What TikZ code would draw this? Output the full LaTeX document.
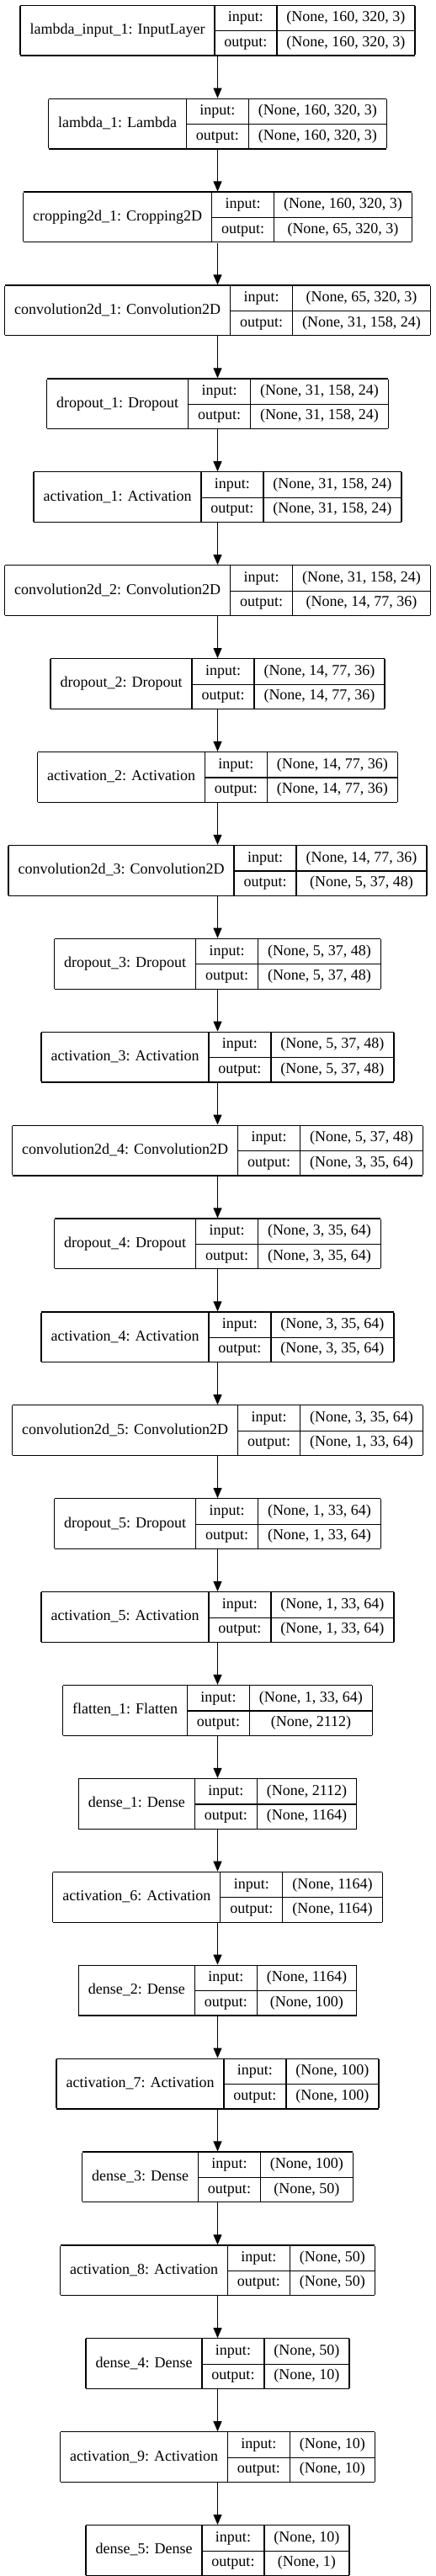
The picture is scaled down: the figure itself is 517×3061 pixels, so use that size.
\documentclass[tikz,border=0pt]{standalone}
\usepackage{fontspec}
\setmainfont{Liberation Serif}
\usepackage{tikz}
\usetikzlibrary{positioning,arrows.meta}

\newcommand{\rowstrut}{\rule[-10.2pt]{0pt}{29.3pt}}
\newcommand{\layerbox}[3]{%
  \setlength{\arrayrulewidth}{1.2pt}\setlength{\tabcolsep}{11.5pt}%
  \begin{tabular}{|c|c|c|}\hline
    \raisebox{-14.65pt}[0pt][0pt]{#1} & input:\rowstrut & #2\\ \cline{2-3}
     & output:\rowstrut & #3\\ \hline
  \end{tabular}}

\begin{document}
\begin{tikzpicture}[->,>={Triangle[length=12pt,width=10pt]},x=1pt,y=1pt,
      node distance=49.9pt,line width=1.2pt,
      layer/.style={inner sep=0pt,outer sep=0pt,font=\fontsize{18}{21.6}\selectfont}]
			\useasboundingbox (0,0) rectangle (517,-3061);
			\node[layer,anchor=north] (lin) at (258.5,-5.7) {\layerbox{lambda\_input\_1: InputLayer}{(None, 160, 320, 3)}{(None, 160, 320, 3)}};
			\node[layer] (lam) [below=of lin] {\layerbox{lambda\_1: Lambda}{(None, 160, 320, 3)}{(None, 160, 320, 3)}};
			\node[layer] (crop) [below=of lam] {\layerbox{cropping2d\_1: Cropping2D}{(None, 160, 320, 3)}{(None, 65, 320, 3)}};
			\node[layer] (conv1) [below=of crop] {\layerbox{convolution2d\_1: Convolution2D}{(None, 65, 320, 3)}{(None, 31, 158, 24)}};
			\node[layer] (drop1) [below=of conv1] {\layerbox{dropout\_1: Dropout}{(None, 31, 158, 24)}{(None, 31, 158, 24)}};
			\node[layer] (act1) [below=of drop1] {\layerbox{activation\_1: Activation}{(None, 31, 158, 24)}{(None, 31, 158, 24)}};
			\node[layer] (conv2) [below=of act1] {\layerbox{convolution2d\_2: Convolution2D}{(None, 31, 158, 24)}{(None, 14, 77, 36)}};
			\node[layer] (drop2) [below=of conv2] {\layerbox{dropout\_2: Dropout}{(None, 14, 77, 36)}{(None, 14, 77, 36)}};
			\node[layer] (act2) [below=of drop2] {\layerbox{activation\_2: Activation}{(None, 14, 77, 36)}{(None, 14, 77, 36)}};
			\node[layer] (conv3) [below=of act2] {\layerbox{convolution2d\_3: Convolution2D}{(None, 14, 77, 36)}{(None, 5, 37, 48)}};
			\node[layer] (drop3) [below=of conv3] {\layerbox{dropout\_3: Dropout}{(None, 5, 37, 48)}{(None, 5, 37, 48)}};
			\node[layer] (act3) [below=of drop3] {\layerbox{activation\_3: Activation}{(None, 5, 37, 48)}{(None, 5, 37, 48)}};
			\node[layer] (conv4) [below=of act3] {\layerbox{convolution2d\_4: Convolution2D}{(None, 5, 37, 48)}{(None, 3, 35, 64)}};
			\node[layer] (drop4) [below=of conv4] {\layerbox{dropout\_4: Dropout}{(None, 3, 35, 64)}{(None, 3, 35, 64)}};
			\node[layer] (act4) [below=of drop4] {\layerbox{activation\_4: Activation}{(None, 3, 35, 64)}{(None, 3, 35, 64)}};
			\node[layer] (conv5) [below=of act4] {\layerbox{convolution2d\_5: Convolution2D}{(None, 3, 35, 64)}{(None, 1, 33, 64)}};
			\node[layer] (drop5) [below=of conv5] {\layerbox{dropout\_5: Dropout}{(None, 1, 33, 64)}{(None, 1, 33, 64)}};
			\node[layer] (act5) [below=of drop5] {\layerbox{activation\_5: Activation}{(None, 1, 33, 64)}{(None, 1, 33, 64)}};
			\node[layer] (flat) [below=of act5] {\layerbox{flatten\_1: Flatten}{(None, 1, 33, 64)}{(None, 2112)}};
			\node[layer] (dense1) [below=of flat] {\layerbox{dense\_1: Dense}{(None, 2112)}{(None, 1164)}};
			\node[layer] (act6) [below=of dense1] {\layerbox{activation\_6: Activation}{(None, 1164)}{(None, 1164)}};
			\node[layer] (dense2) [below=of act6] {\layerbox{dense\_2: Dense}{(None, 1164)}{(None, 100)}};
			\node[layer] (act7) [below=of dense2] {\layerbox{activation\_7: Activation}{(None, 100)}{(None, 100)}};
			\node[layer] (dense3) [below=of act7] {\layerbox{dense\_3: Dense}{(None, 100)}{(None, 50)}};
			\node[layer] (act8) [below=of dense3] {\layerbox{activation\_8: Activation}{(None, 50)}{(None, 50)}};
			\node[layer] (dense4) [below=of act8] {\layerbox{dense\_4: Dense}{(None, 50)}{(None, 10)}};
			\node[layer] (act9) [below=of dense4] {\layerbox{activation\_9: Activation}{(None, 10)}{(None, 10)}};
			\node[layer] (dense5) [below=of act9] {\layerbox{dense\_5: Dense}{(None, 10)}{(None, 1)}};
			\path
				(lin) edge (lam)
				(lam) edge (crop)
				(crop) edge (conv1)
				(conv1) edge (drop1)
				(drop1) edge (act1)
				(act1) edge (conv2)
				(conv2) edge (drop2)
				(drop2) edge (act2)
				(act2) edge (conv3)
				(conv3) edge (drop3)
				(drop3) edge (act3)
				(act3) edge (conv4)
				(conv4) edge (drop4)
				(drop4) edge (act4)
				(act4) edge (conv5)
				(conv5) edge (drop5)
				(drop5) edge (act5)
				(act5) edge (flat)
				(flat) edge (dense1)
				(dense1) edge (act6)
				(act6) edge (dense2)
				(dense2) edge (act7)
				(act7) edge (dense3)
				(dense3) edge (act8)
				(act8) edge (dense4)
				(dense4) edge (act9)
				(act9) edge (dense5);
		\end{tikzpicture}
\end{document}
